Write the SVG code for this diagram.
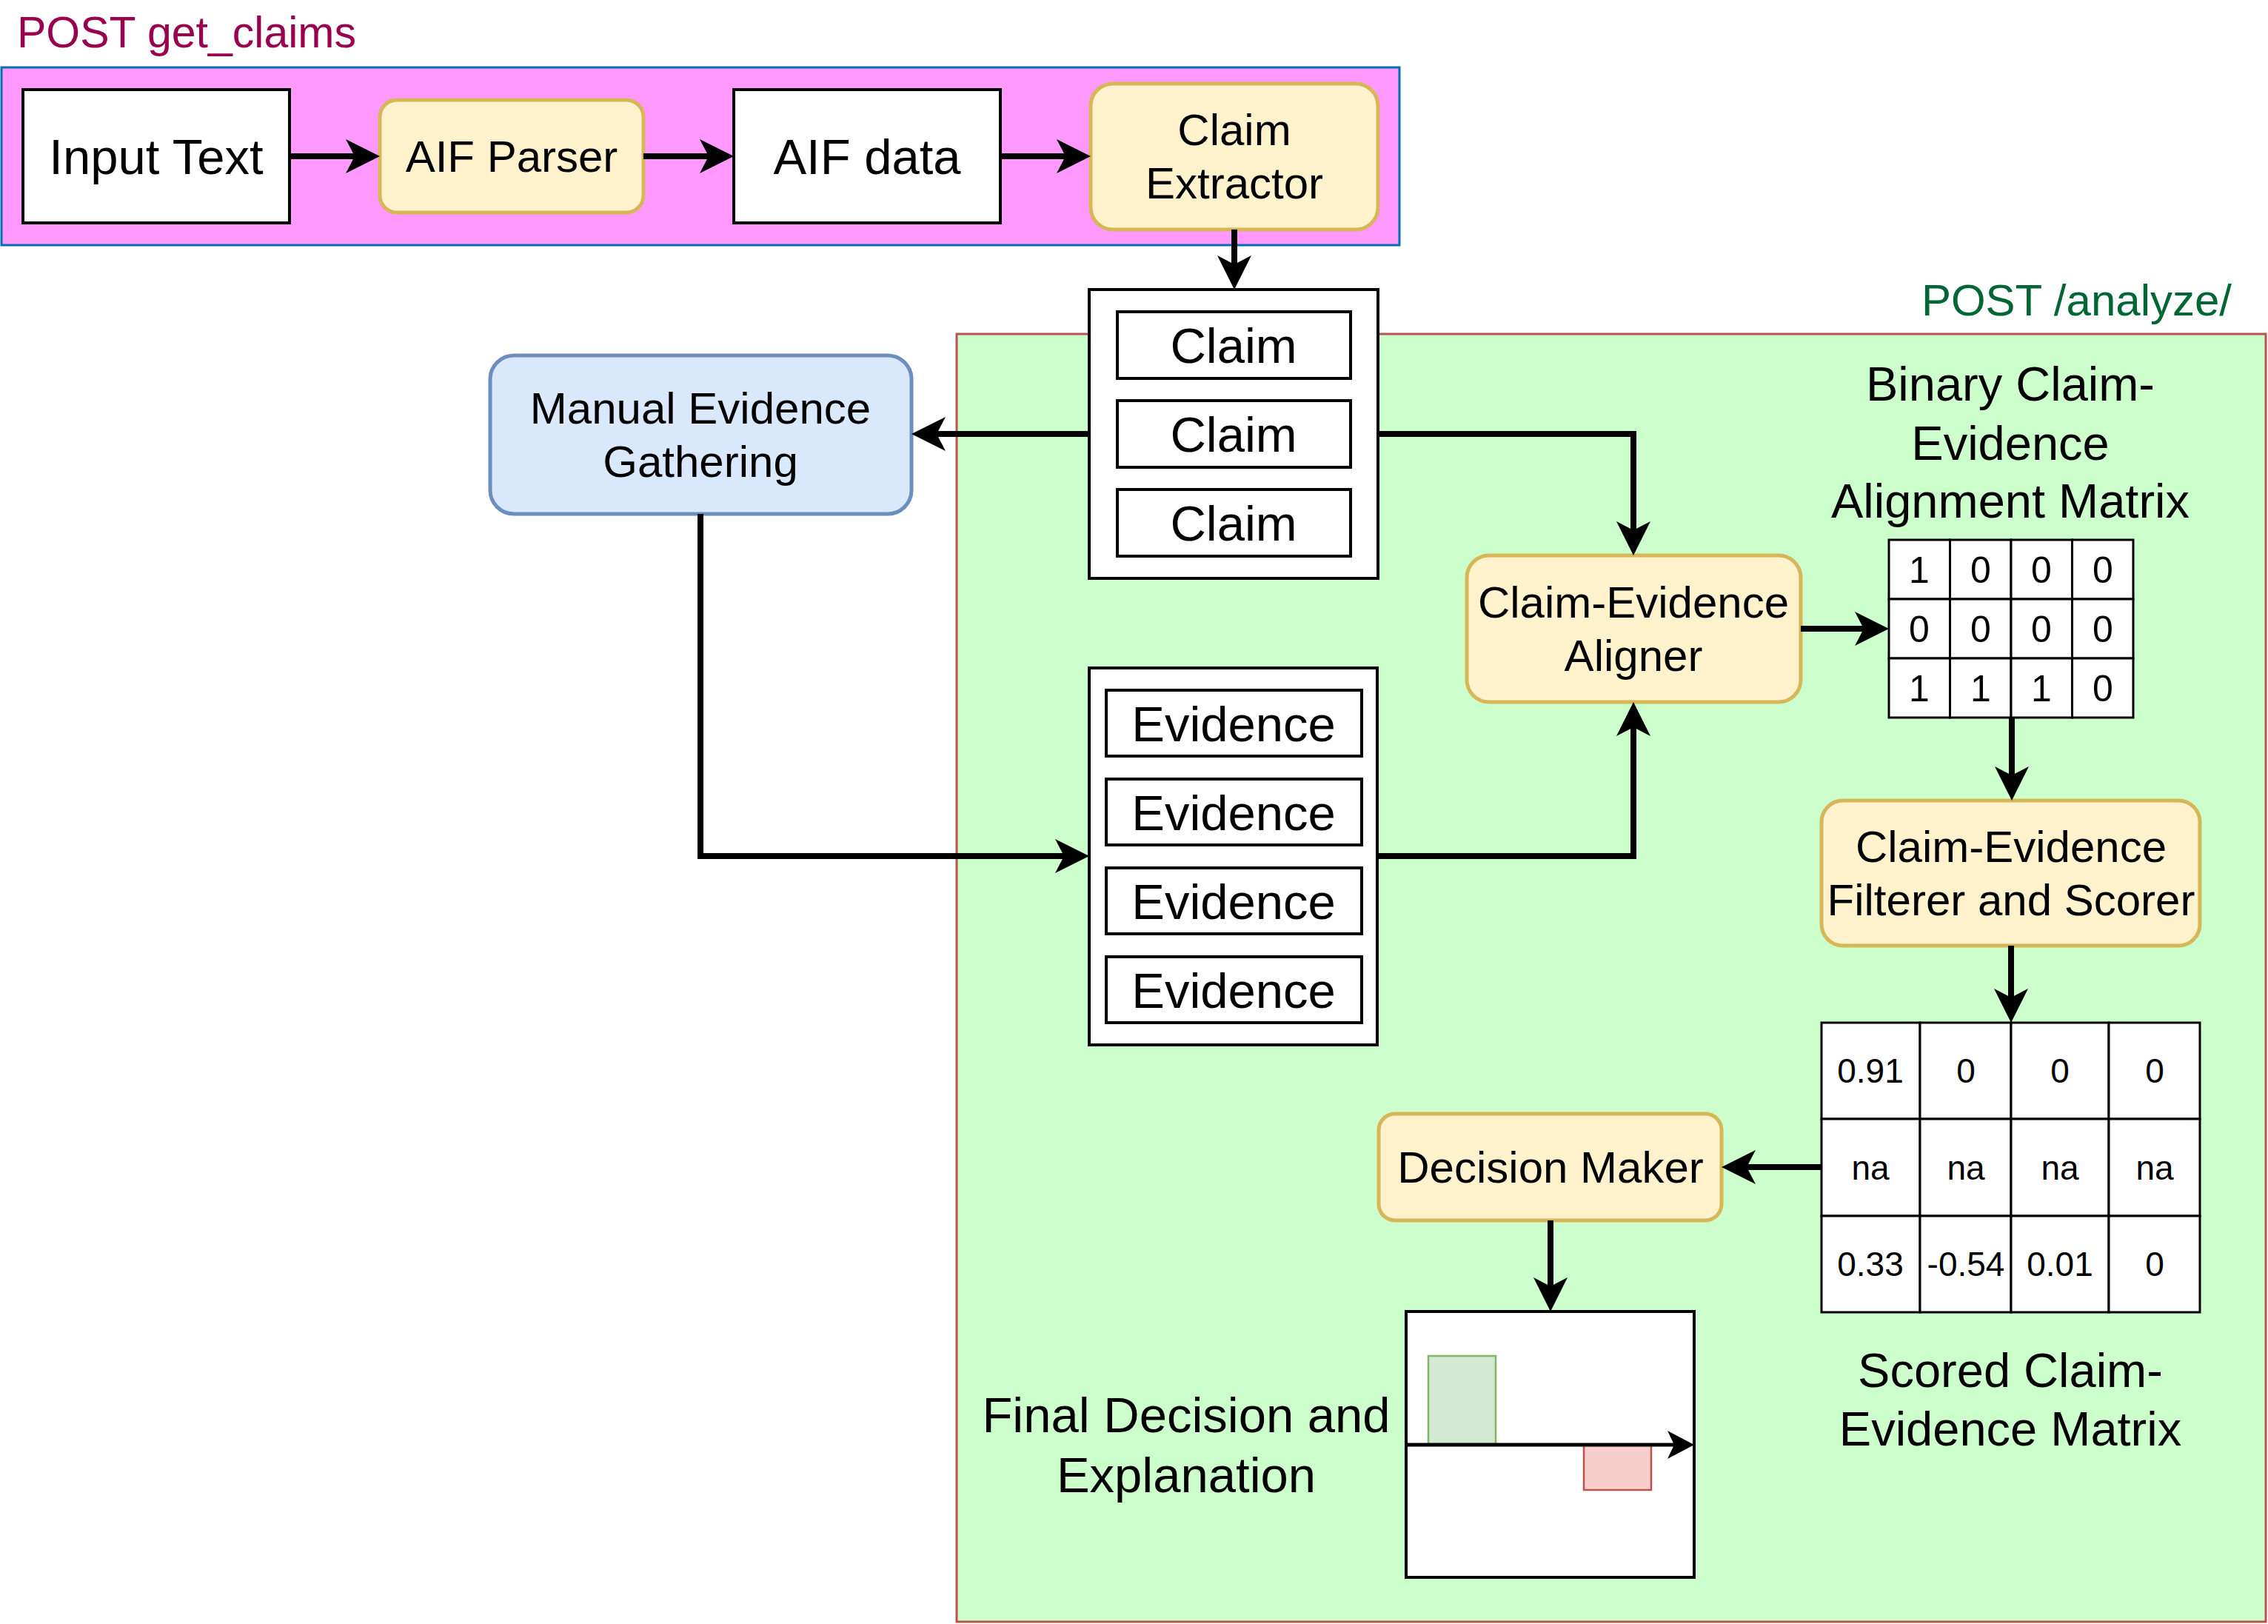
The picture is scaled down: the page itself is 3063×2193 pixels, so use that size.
<svg xmlns="http://www.w3.org/2000/svg" width="3063" height="2193" viewBox="0 0 3063 2193">
<defs>
<style>
text{font-family:"Liberation Sans",Arial,Helvetica,sans-serif;fill:#000;text-anchor:middle}
.big{font-size:67px}
.med{font-size:60px}
.lbl{font-size:65px}
.mat{font-size:50px}
.sc{font-size:46px}
.plain{fill:#fff;stroke:#000;stroke-width:4}
.proc{fill:#fff2cc;stroke:#d6b656;stroke-width:5}
.cell{fill:#fff;stroke:#000;stroke-width:3}
.conn{fill:none;stroke:#000;stroke-width:8;stroke-linejoin:miter;marker-end:url(#ah)}
</style>
<marker id="ah" markerUnits="userSpaceOnUse" markerWidth="46" markerHeight="46" viewBox="0 0 46 46" refX="16" refY="23" orient="auto">
<path d="M0 0 L46 23 L0 46 L12 23 Z" fill="#000"/>
</marker>
<marker id="ahs" markerUnits="userSpaceOnUse" markerWidth="36" markerHeight="38" viewBox="0 0 36 38" refX="11" refY="19" orient="auto">
<path d="M0 0 L36 19 L0 38 L9 19 Z" fill="#000"/>
</marker>
</defs>

<g id="get_claims_group">
<rect x="2" y="91" width="1888" height="240" fill="#ff99ff" stroke="#006eaf" stroke-width="3"/>
<text x="23" y="64" style="font-size:59px;fill:#99004d;text-anchor:start">POST get_claims</text>
</g>

<g id="analyze_group">
<rect x="1292" y="451" width="1768" height="1739" fill="#ccffcc" stroke="#b85450" stroke-width="3"/>
<text x="3014" y="426" style="font-size:60px;fill:#006633;text-anchor:end">POST /analyze/</text>
</g>

<g id="input_text">
<rect class="plain" x="31" y="121" width="360" height="180"/>
<text class="big" x="211" y="235">Input Text</text>
</g>

<g id="aif_parser">
<rect class="proc" x="513" y="135" width="356" height="152" rx="23"/>
<text class="med" x="691" y="232">AIF Parser</text>
</g>

<g id="aif_data">
<rect class="plain" x="991" y="121" width="360" height="180"/>
<text class="big" x="1171" y="235">AIF data</text>
</g>

<g id="claim_extractor">
<rect class="proc" x="1473" y="113" width="388" height="197" rx="30"/>
<text class="med" x="1667" y="196">Claim</text>
<text class="med" x="1667" y="268">Extractor</text>
</g>

<g id="claims">
<rect class="plain" x="1471" y="391" width="390" height="390"/>
<rect class="plain" x="1509" y="421" width="315" height="90"/>
<text class="big" x="1666" y="490">Claim</text>
<rect class="plain" x="1509" y="541" width="315" height="90"/>
<text class="big" x="1666" y="610">Claim</text>
<rect class="plain" x="1509" y="661" width="315" height="90"/>
<text class="big" x="1666" y="730">Claim</text>
</g>

<g id="manual_evidence">
<rect x="662" y="480" width="569" height="214" rx="32" fill="#dae8fc" stroke="#6c8ebf" stroke-width="5"/>
<text class="med" x="946" y="572">Manual Evidence</text>
<text class="med" x="946" y="644">Gathering</text>
</g>

<g id="evidences">
<rect class="plain" x="1471" y="902" width="389" height="509"/>
<rect class="plain" x="1494" y="932" width="345" height="89"/>
<text class="big" x="1666" y="1001">Evidence</text>
<rect class="plain" x="1494" y="1052" width="345" height="89"/>
<text class="big" x="1666" y="1121">Evidence</text>
<rect class="plain" x="1494" y="1172" width="345" height="89"/>
<text class="big" x="1666" y="1241">Evidence</text>
<rect class="plain" x="1494" y="1292" width="345" height="89"/>
<text class="big" x="1666" y="1361">Evidence</text>
</g>

<g id="aligner">
<rect class="proc" x="1981" y="750" width="451" height="198" rx="30"/>
<text class="med" x="2206" y="834">Claim-Evidence</text>
<text class="med" x="2206" y="906">Aligner</text>
</g>

<g id="binary_matrix">
<text class="lbl" x="2715" y="541">Binary Claim-</text>
<text class="lbl" x="2715" y="621">Evidence</text>
<text class="lbl" x="2715" y="699">Alignment Matrix</text>
<rect class="cell" x="2551" y="729" width="82.5" height="80"/>
<rect class="cell" x="2633.5" y="729" width="82.5" height="80"/>
<rect class="cell" x="2716" y="729" width="82.5" height="80"/>
<rect class="cell" x="2798.5" y="729" width="82.5" height="80"/>
<rect class="cell" x="2551" y="809" width="82.5" height="80"/>
<rect class="cell" x="2633.5" y="809" width="82.5" height="80"/>
<rect class="cell" x="2716" y="809" width="82.5" height="80"/>
<rect class="cell" x="2798.5" y="809" width="82.5" height="80"/>
<rect class="cell" x="2551" y="889" width="82.5" height="80"/>
<rect class="cell" x="2633.5" y="889" width="82.5" height="80"/>
<rect class="cell" x="2716" y="889" width="82.5" height="80"/>
<rect class="cell" x="2798.5" y="889" width="82.5" height="80"/>
<text class="mat" x="2592" y="787">1</text>
<text class="mat" x="2675" y="787">0</text>
<text class="mat" x="2757" y="787">0</text>
<text class="mat" x="2840" y="787">0</text>
<text class="mat" x="2592" y="867">0</text>
<text class="mat" x="2675" y="867">0</text>
<text class="mat" x="2757" y="867">0</text>
<text class="mat" x="2840" y="867">0</text>
<text class="mat" x="2592" y="947">1</text>
<text class="mat" x="2675" y="947">1</text>
<text class="mat" x="2757" y="947">1</text>
<text class="mat" x="2840" y="947">0</text>
</g>

<g id="filterer_scorer">
<rect class="proc" x="2460" y="1081" width="511" height="196" rx="29"/>
<text class="med" x="2716" y="1164">Claim-Evidence</text>
<text class="med" x="2716" y="1236">Filterer and Scorer</text>
</g>

<g id="scored_matrix">
<rect class="cell" x="2460" y="1381" width="133" height="130"/>
<rect class="cell" x="2593" y="1381" width="123" height="130"/>
<rect class="cell" x="2716" y="1381" width="132" height="130"/>
<rect class="cell" x="2848" y="1381" width="123" height="130"/>
<rect class="cell" x="2460" y="1511" width="133" height="131"/>
<rect class="cell" x="2593" y="1511" width="123" height="131"/>
<rect class="cell" x="2716" y="1511" width="132" height="131"/>
<rect class="cell" x="2848" y="1511" width="123" height="131"/>
<rect class="cell" x="2460" y="1642" width="133" height="130"/>
<rect class="cell" x="2593" y="1642" width="123" height="130"/>
<rect class="cell" x="2716" y="1642" width="132" height="130"/>
<rect class="cell" x="2848" y="1642" width="123" height="130"/>
<text class="sc" x="2526" y="1462">0.91</text>
<text class="sc" x="2655" y="1462">0</text>
<text class="sc" x="2782" y="1462">0</text>
<text class="sc" x="2910" y="1462">0</text>
<text class="sc" x="2526" y="1593">na</text>
<text class="sc" x="2655" y="1593">na</text>
<text class="sc" x="2782" y="1593">na</text>
<text class="sc" x="2910" y="1593">na</text>
<text class="sc" x="2526" y="1723">0.33</text>
<text class="sc" x="2655" y="1723">-0.54</text>
<text class="sc" x="2782" y="1723">0.01</text>
<text class="sc" x="2910" y="1723">0</text>
<text class="lbl" x="2715" y="1873">Scored Claim-</text>
<text class="lbl" x="2715" y="1952">Evidence Matrix</text>
</g>

<g id="decision_maker">
<rect class="proc" x="1862" y="1504" width="463" height="144" rx="22"/>
<text class="med" x="2094" y="1597">Decision Maker</text>
</g>

<g id="final_decision">
<rect class="plain" x="1899" y="1771" width="389" height="359"/>
<rect x="1929" y="1831" width="91" height="120" fill="#d5e8d4" stroke="#82b366" stroke-width="2.5"/>
<rect x="2139" y="1951" width="91" height="61" fill="#f8cecc" stroke="#b85450" stroke-width="2.5"/>
<path d="M1899 1951 H2263" fill="none" stroke="#000" stroke-width="5" marker-end="url(#ahs)"/>
<text class="big" x="1602" y="1934">Final Decision and</text>
<text class="big" x="1602" y="2015">Explanation</text>
</g>

<g id="connectors">
<path class="conn" d="M391 211 H483"/>
<path class="conn" d="M869 211 H961"/>
<path class="conn" d="M1351 211 H1443"/>
<path class="conn" d="M1667 310 V361"/>
<path class="conn" d="M1471 586 H1261"/>
<path class="conn" d="M946 694 V1156 H1441"/>
<path class="conn" d="M1861 586 H2206 V720"/>
<path class="conn" d="M1860 1156 H2206 V978"/>
<path class="conn" d="M2432 849 H2521"/>
<path class="conn" d="M2717 969 V1051"/>
<path class="conn" d="M2716 1277 V1351"/>
<path class="conn" d="M2460 1576 H2355"/>
<path class="conn" d="M2094 1648 V1741"/>
</g>
</svg>
